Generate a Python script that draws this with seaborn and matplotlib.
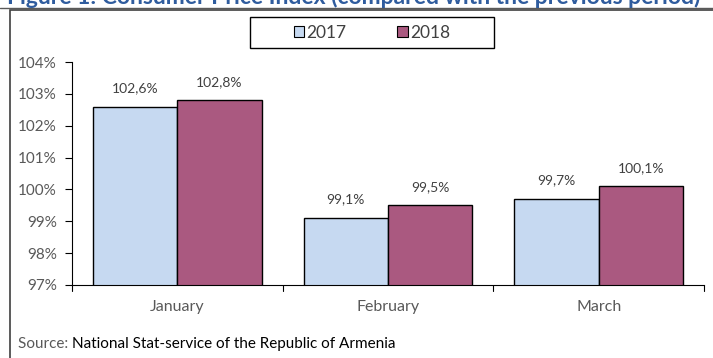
import matplotlib
matplotlib.use("Agg")
import matplotlib.pyplot as plt
import seaborn as sns
import pandas as pd
from matplotlib.patches import Rectangle, Patch
from matplotlib.lines import Line2D

months = ["January", "February", "March"]
years = ["2017", "2018"]
values_2017 = [102.6, 99.1, 99.7]
values_2018 = [102.8, 99.5, 100.1]
yticks = [97, 98, 99, 100, 101, 102, 103, 104]
colors = {"2017": "#C6D9F1", "2018": "#AA5980"}

df = pd.DataFrame({
    "month": months * 2,
    "year": ["2017"] * 3 + ["2018"] * 3,
    "value": values_2017 + values_2018,
})

sns.set_theme(style="white")
plt.rcParams["font.family"] = ["Lato", "DejaVu Sans"]

W, H = 713, 358
fig = plt.figure(figsize=(W / 100, H / 100), dpi=100)
ax = fig.add_axes([72/W, 1 - 285/H, (704 - 72)/W, (285 - 62)/H])

sns.barplot(data=df, x="month", y="value", hue="year", order=months,
            hue_order=years, palette=colors, edgecolor="black", linewidth=1.0,
            width=0.8, ax=ax, legend=False, saturation=1)

ax.set_ylim(97, 104)
ax.set_xlim(-0.5, 2.5)
ax.set_yticks(yticks)
ax.set_yticklabels([f"{t}%" for t in yticks], color="#595959", fontsize=11)
ax.set_xlabel("")
ax.set_ylabel("")
ax.tick_params(axis="y", length=5, width=0.8, color="black", direction="out", left=True, pad=6)
ax.set_xticks([0, 1, 2])
ax.set_xticklabels(months, color="#595959", fontsize=11.5)
ax.tick_params(axis="x", length=0, pad=11)
for b in [-0.5, 0.5, 1.5, 2.5]:
    ax.plot([b, b], [0, -0.025], transform=ax.get_xaxis_transform(),
            color="black", lw=0.8, clip_on=False)

for s in ["top", "right"]:
    ax.spines[s].set_visible(False)
for s in ["left", "bottom"]:
    ax.spines[s].set_color("black")
    ax.spines[s].set_linewidth(0.8)

for cont in ax.containers:
    labels = [f"{v:.1f}%".replace(".", ",") for v in cont.datavalues]
    ax.bar_label(cont, labels=labels, padding=9, color="#404040", fontsize=10)

# legend (frame drawn separately so it can be wide like the reference)
handles = [Patch(facecolor=colors[y], edgecolor="black", linewidth=0.8) for y in years]
leg = fig.legend(handles, years, loc="center", bbox_to_anchor=(372/W, 1 - 32.5/H),
                 ncol=2, frameon=False, fontsize=12.5, handlelength=0.6, handleheight=0.6,
                 handletextpad=0.15, columnspacing=2.9, borderpad=0.3,
                 labelcolor="#404040")
fig.patches.append(Rectangle((250/W, 1 - 48/H), (494 - 250)/W, 31/H, transform=fig.transFigure,
                             fill=False, edgecolor="black", linewidth=1.0))

# outer frame
fig.patches.append(Rectangle((10/W, -0.05), 1.0, 1 - 10/H + 0.05, transform=fig.transFigure,
                             fill=False, edgecolor="#404040", linewidth=1.2))
fig.add_artist(Line2D([0, 1], [1 - 8/H, 1 - 8/H], transform=fig.transFigure,
                      color="#595959", lw=1.0))

# title, cut off at the top edge as in the reference
fig.text(700/W, 1 - 4/H, "Figure 1: Consumer Price Index (compared with the previous period)",
         ha="right", va="baseline", fontsize=16.5, fontweight="bold", color="#2F5C9E")

# source
t1 = fig.text(18/W, 1 - 344/H, "Source: ", ha="left", va="center", fontsize=11, color="#595959")
fig.canvas.draw()
bb = t1.get_window_extent()
fig.text(bb.x1 / fig.bbox.width, 1 - 344/H, "National Stat-service of the Republic of Armenia",
         ha="left", va="center", fontsize=11, color="black")

fig.savefig("out.png", dpi=100)
